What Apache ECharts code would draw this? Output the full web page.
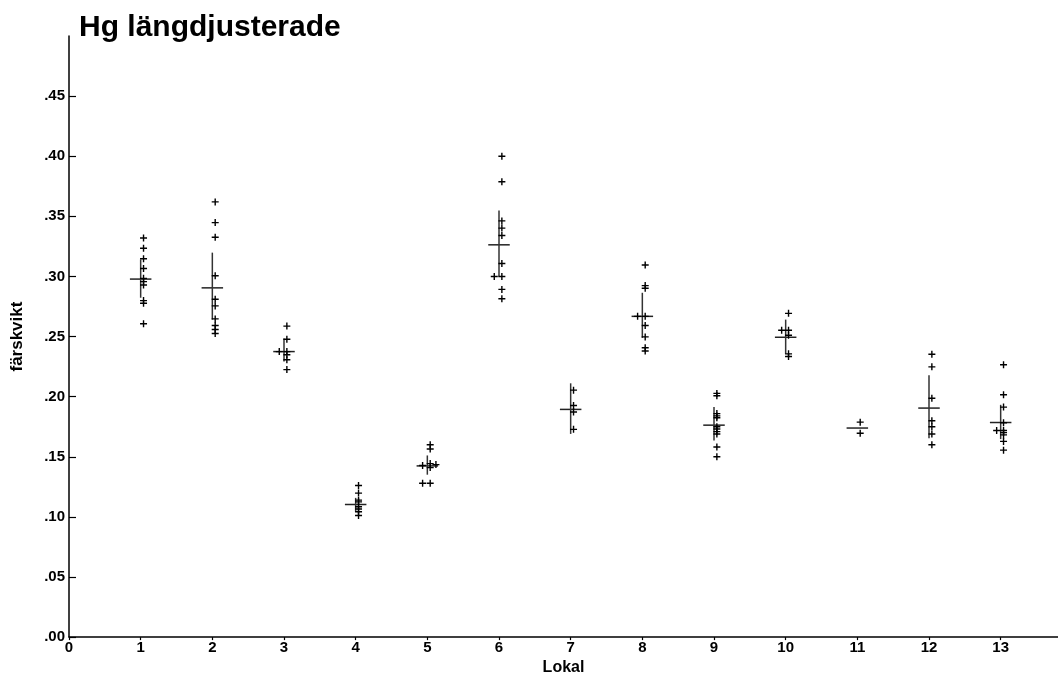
<!DOCTYPE html>
<html>
<head>
<meta charset="utf-8">
<script src="https://cdn.jsdelivr.net/npm/echarts@6/dist/echarts.min.js"></script>
<style>
  html, body { margin: 0; padding: 0; background: #fff; }
  #chart { width: 1058px; height: 681px; }
</style>
</head>
<body>
<div id="chart"></div>
<script>
// ---- data ----
const titleText = 'Hg längdjusterade';
const xName = 'Lokal';
const yName = 'färskvikt';
const xTickValues = [0, 1, 2, 3, 4, 5, 6, 7, 8, 9, 10, 11, 12, 13];
const yTickValues = [0, 0.05, 0.10, 0.15, 0.20, 0.25, 0.30, 0.35, 0.40, 0.45];
const yTickLabels = ['.00', '.05', '.10', '.15', '.20', '.25', '.30', '.35', '.40', '.45'];
const lokal = [1, 2, 3, 4, 5, 6, 7, 8, 9, 10, 11, 12, 13];

// individual measurements per lokal
const hg1 = [0.3320, 0.3234, 0.3147, 0.3066, 0.2984, 0.2957, 0.2929, 0.2799, 0.2777, 0.2606];
const hg2 = [0.3620, 0.3448, 0.3326, 0.3006, 0.2810, 0.2755, 0.2647, 0.2592, 0.2559, 0.2525];
const hg3 = [0.2587, 0.2478, 0.2375, 0.2375, 0.2348, 0.2307, 0.2225];
const hg4 = [0.1261, 0.1198, 0.1139, 0.1125, 0.1084, 0.1065, 0.1043, 0.1011];
const hg5 = [0.1600, 0.1565, 0.1427, 0.1443, 0.1410, 0.1435, 0.1280, 0.1280];
const hg6 = [0.4000, 0.3788, 0.3462, 0.3402, 0.3340, 0.3108, 0.3000, 0.3000, 0.2892, 0.2815];
const hg7 = [0.2054, 0.1926, 0.1873, 0.1728];
const hg8 = [0.3095, 0.2924, 0.2902, 0.2668, 0.2668, 0.2592, 0.2497, 0.2407, 0.2380];
const hg9 = [0.2027, 0.2008, 0.1859, 0.1840, 0.1824, 0.1750, 0.1731, 0.1709, 0.1690, 0.1581, 0.1500];
const hg10 = [0.2693, 0.2552, 0.2552, 0.2511, 0.2356, 0.2334];
const hg11 = [0.1788, 0.1696];
const hg12 = [0.2353, 0.2248, 0.1987, 0.1799, 0.1750, 0.1690, 0.1600];
const hg13 = [0.2266, 0.2016, 0.1913, 0.1783, 0.1718, 0.1718, 0.1701, 0.1682, 0.1628, 0.1555];

// horizontal jitter of the points (in lokal units)
const jit1 = [0.04, 0.04, 0.04, 0.04, 0.04, 0.04, 0.04, 0.04, 0.04, 0.04];
const jit2 = [0.04, 0.04, 0.04, 0.04, 0.04, 0.04, 0.04, 0.04, 0.04, 0.04];
const jit3 = [0.04, 0.04, -0.066, 0.04, 0.04, 0.04, 0.04];
const jit4 = [0.04, 0.04, 0.04, 0.04, 0.04, 0.04, 0.04, 0.04];
const jit5 = [0.04, 0.04, -0.066, 0.04, 0.04, 0.12, -0.066, 0.04];
const jit6 = [0.04, 0.04, 0.04, 0.04, 0.04, 0.04, -0.066, 0.04, 0.04, 0.04];
const jit7 = [0.04, 0.04, 0.04, 0.04];
const jit8 = [0.04, 0.04, 0.04, -0.066, 0.04, 0.04, 0.04, 0.04, 0.04];
const jit9 = [0.04, 0.04, 0.04, 0.04, 0.04, 0.04, 0.04, 0.04, 0.04, 0.04, 0.04];
const jit10 = [0.04, -0.056, 0.04, 0.04, 0.04, 0.04];
const jit11 = [0.04, 0.04];
const jit12 = [0.04, 0.04, 0.04, 0.04, 0.04, 0.04, 0.04];
const jit13 = [0.04, 0.04, 0.04, 0.04, -0.056, 0.04, 0.04, 0.04, 0.04, 0.04];

// group mean and confidence interval
const meanHg = [0.2978, 0.2905, 0.2375, 0.1103, 0.1424, 0.3263, 0.1894, 0.2668, 0.1763, 0.2494, 0.1739, 0.1905, 0.1785];
const ciLow  = [0.2823, 0.2641, 0.2293, 0.1043, 0.1351, 0.3000, 0.1690, 0.2489, 0.1636, 0.2356, null, 0.1655, 0.1647];
const ciHigh = [0.3141, 0.3198, 0.2484, 0.1158, 0.1511, 0.3549, 0.2111, 0.2864, 0.1913, 0.2641, null, 0.2179, 0.1932];

// ---- build ----
const allHg = [hg1, hg2, hg3, hg4, hg5, hg6, hg7, hg8, hg9, hg10, hg11, hg12, hg13];
const allJit = [jit1, jit2, jit3, jit4, jit5, jit6, jit7, jit8, jit9, jit10, jit11, jit12, jit13];
const points = [];
allHg.forEach((arr, gi) => {
  arr.forEach((v, i) => points.push([lokal[gi] + allJit[gi][i], v]));
});
const meanData = lokal.map((l, i) => [l, meanHg[i], ciLow[i], ciHigh[i]]);

const labelFont = { fontFamily: 'Liberation Sans, Arial, sans-serif', fontWeight: 'bold', color: '#000' };
const plusPath = 'path://M40,0H60V40H100V60H60V100H40V60H0V40H40Z';

const chart = echarts.init(document.getElementById('chart'), null, { renderer: 'canvas' });
chart.setOption({
  backgroundColor: '#fff',
  animation: false,
  title: {
    text: titleText,
    left: 74, top: 8,
    textStyle: { fontFamily: 'Liberation Sans, Arial, sans-serif', fontWeight: 'bold', fontSize: 30, color: '#000' }
  },
  grid: { left: 69, right: 0, top: 36, bottom: 35, containLabel: false },
  xAxis: {
    type: 'value', min: 0, max: 13.8, interval: 1,
    name: xName, nameLocation: 'middle', nameGap: 17,
    nameTextStyle: Object.assign({ fontSize: 16 }, labelFont),
    axisLine: { show: true, onZero: false, lineStyle: { color: '#000', width: 1.5 } },
    axisTick: { show: true, inside: false, length: 3, lineStyle: { color: '#000', width: 1.2 }, customValues: xTickValues },
    axisLabel: Object.assign({ fontSize: 15, margin: 3, customValues: xTickValues }, labelFont),
    splitLine: { show: false }
  },
  yAxis: {
    type: 'value', min: 0, max: 0.5, interval: 0.05,
    name: yName, nameLocation: 'middle', nameGap: 43, nameRotate: 90,
    nameTextStyle: Object.assign({ fontSize: 17 }, labelFont),
    axisLine: { show: true, onZero: false, lineStyle: { color: '#000', width: 1.5 } },
    axisTick: { show: true, inside: true, length: 7, lineStyle: { color: '#000', width: 1.2 }, customValues: yTickValues },
    axisLabel: Object.assign({
      fontSize: 15, margin: 4, customValues: yTickValues,
      formatter: (v) => { const i = yTickValues.findIndex(t => Math.abs(t - v) < 1e-9); return i >= 0 ? yTickLabels[i] : ''; }
    }, labelFont),
    splitLine: { show: false }
  },
  series: [
    {
      type: 'custom',
      data: meanData,
      z: 2,
      renderItem: function (params, api) {
        const x = api.value(0), m = api.value(1);
        const lo = meanData[params.dataIndex][2], hi = meanData[params.dataIndex][3];
        const a = api.coord([x - 0.15, m]), b = api.coord([x + 0.15, m]);
        const children = [{
          type: 'line',
          shape: { x1: a[0], y1: a[1], x2: b[0], y2: b[1] },
          style: { stroke: '#222', lineWidth: 1.5 }
        }];
        if (lo != null && hi != null) {
          const p = api.coord([x, lo]), q = api.coord([x, hi]);
          children.push({
            type: 'line',
            shape: { x1: p[0], y1: p[1], x2: q[0], y2: q[1] },
            style: { stroke: '#333', lineWidth: 1.5 }
          });
        }
        return { type: 'group', children };
      }
    },
    {
      type: 'scatter',
      data: points,
      symbol: plusPath,
      symbolSize: 7,
      z: 3,
      itemStyle: { color: '#000', opacity: 1 }
    }
  ]
});
</script>
</body>
</html>
